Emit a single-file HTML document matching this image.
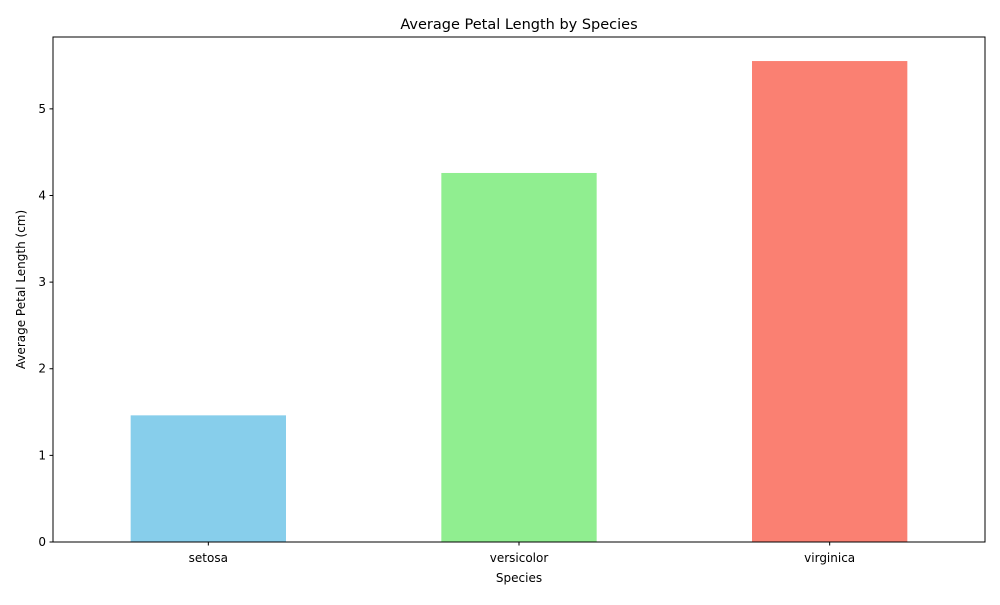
<!DOCTYPE html>
<html><head><meta charset="utf-8"><style>
body{margin:0;background:#fff;font-family:"Liberation Sans","DejaVu Sans",sans-serif;}
text{font-family:"DejaVu Sans","Liberation Sans",sans-serif;}
</style></head><body>
<svg id="chart" width="1000" height="600" xmlns="http://www.w3.org/2000/svg"></svg>
<script>
const categories = ["setosa","versicolor","virginica"];
const values = [1.462, 4.26, 5.552];
const colors = ["#87ceeb","#90ee90","#fa8072"];
const yTicks = [0,1,2,3,4,5];

const L=53,R=985,T=37,B=542;
const yMax = Math.max(...values)*1.05;
const ys = v => B - v/yMax*(B-T);
const step = (R-L)/categories.length;
const xs = i => L + step*(i+0.5);
const svg=document.getElementById('chart');
const NS='http://www.w3.org/2000/svg';
function mk(tag,attrs,txt){const e=document.createElementNS(NS,tag);for(const k in attrs)e.setAttribute(k,attrs[k]);if(txt!==undefined)e.textContent=txt;svg.appendChild(e);return e;}

values.forEach((v,i)=>{
  const r=mk('rect',{x:xs(i)-step/4,y:ys(v),width:step/2,height:B-ys(v),fill:colors[i]});
  
  
});
const frame=mk('rect',{x:L,y:T,width:R-L,height:B-T,fill:'none',stroke:'#000','stroke-width':1});



yTicks.forEach(t=>{
  const y=ys(t);
  const tk=mk('line',{x1:L-3.5,x2:L,y1:y,y2:y,stroke:'#000'});
  
  
  const lb=mk('text',{x:L-7,y:y+4,'text-anchor':'end','font-size':12},String(t));
  
  
});
categories.forEach((c,i)=>{
  const x=xs(i);
  const tk=mk('line',{x1:x,x2:x,y1:B,y2:B+3.5,stroke:'#000'});
  
  
  const lb=mk('text',{x:x,y:B+20,'text-anchor':'middle','font-size':12},c);
  
  
});
const title=mk('text',{x:(L+R)/2,y:29,'text-anchor':'middle','font-size':14.5},'Average Petal Length by Species');


const xt=mk('text',{x:(L+R)/2,y:582,'text-anchor':'middle','font-size':12},'Species');


const yt=mk('text',{x:0,y:0,'text-anchor':'middle','font-size':12,transform:`translate(25,${(T+B)/2}) rotate(-90)`},'Average Petal Length (cm)');


</script>
</body></html>
